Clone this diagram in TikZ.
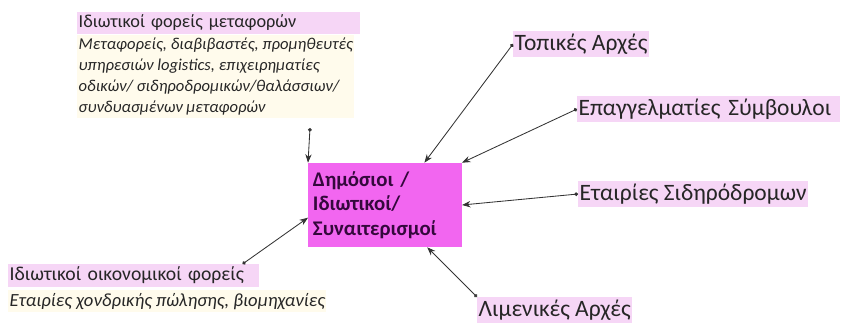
\documentclass[tikz,border=0pt]{standalone}
\usepackage{fontspec}
\setmainfont{Carlito}
\usetikzlibrary{arrows.meta}
\definecolor{rozfonto}{RGB}{246,214,246}
\definecolor{kremfonto}{RGB}{255,251,236}
\definecolor{kentrofonto}{RGB}{242,102,240}
\definecolor{kentrokeimeno}{RGB}{52,8,60}
\begin{document}
\begin{tikzpicture}[x=0.025cm,y=-0.025cm,
  etiketa/.style={fill=rozfonto,inner xsep=1pt,inner ysep=2pt,font=\fontsize{16.7}{19}\selectfont,text=black!85},
  titlos/.style={fill=rozfonto,inner xsep=1pt,inner ysep=2pt,text=black!85},
  perigrafi/.style={fill=kremfonto,inner xsep=1pt,inner ysep=2pt,align=left,text=black!85},
  kentro/.style={fill=kentrofonto,minimum width=3.75cm,minimum height=2.1cm,text width=3.6cm,align=left,font=\fontsize{14.8}{17.4}\selectfont\bfseries,text=kentrokeimeno},
  syndesi/.style={draw=black!80,line width=0.6pt,{Circle[length=2.6pt]}-{Stealth[length=6pt,width=4.5pt]}}]
\useasboundingbox (0,0) rectangle (841,322);

\node[kentro] (foreis) at (385,205) {Δημόσιοι /\\Ιδιωτικοί/\\Συναιτερισμοί};

\node[titlos,anchor=north west,text width=7cm,font=\fontsize{13}{15}\selectfont] (metafores) at (77,12) {Ιδιωτικοί φορείς μεταφορών};
\node[perigrafi,anchor=north west,font=\fontsize{11.8}{14.9}\selectfont\itshape] (metafores_per) at (77,35) {Μεταφορείς, διαβιβαστές, προμηθευτές\\υπηρεσιών logistics, επιχειρηματίες\\οδικών/ σιδηροδρομικών/θαλάσσιων/\\συνδυασμένων μεταφορών};
\coordinate (metafores_ak) at (310,128);

\node[titlos,anchor=north west,text width=6.2cm,font=\fontsize{14}{16}\selectfont] (oikonomikoi) at (8,264) {Ιδιωτικοί οικονομικοί φορείς};
\node[perigrafi,anchor=north west,font=\fontsize{13.2}{15}\selectfont\itshape] (oikonomikoi_per) at (8,290) {Εταιρίες χονδρικής πώλησης, βιομηχανίες};

\node[etiketa,anchor=west] (topikes) at (513,44) {Τοπικές Αρχές};
\node[etiketa,anchor=west,text width=6.5cm] (symvouloi) at (577,109) {Επαγγελματίες Σύμβουλοι};
\node[etiketa,anchor=west] (sidirodromoi) at (578,194) {Εταιρίες Σιδηρόδρομων};
\node[etiketa,anchor=north west] (limenikes) at (477,297) {Λιμενικές Αρχές};

\draw[syndesi] (metafores_ak) -- (foreis.north west);
\draw[syndesi] ([xshift=-12pt]oikonomikoi.north east) -- ([yshift=-9pt]foreis.west);
\draw[syndesi] (topikes.west) -- ([xshift=28pt]foreis.north);
\draw[syndesi] (symvouloi.west) -- (foreis.north east);
\draw[syndesi] (sidirodromoi.west) -- (foreis.east);
\draw[syndesi] (limenikes.north west) -- ([xshift=30pt]foreis.south);
\end{tikzpicture}
\end{document}
